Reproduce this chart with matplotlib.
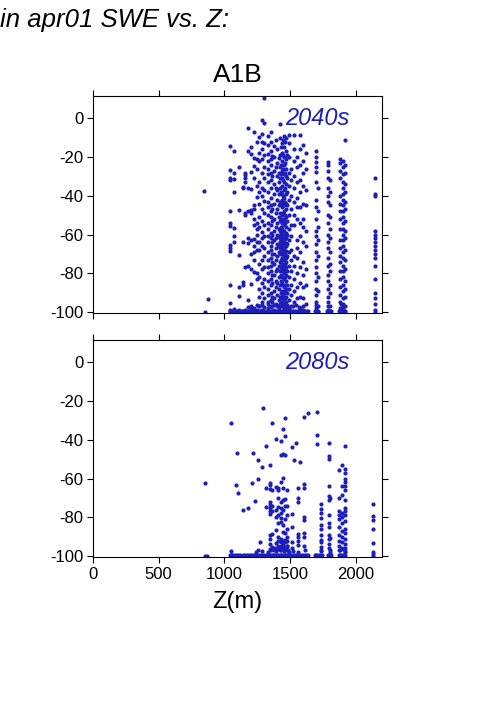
import matplotlib
matplotlib.use("Agg")
import matplotlib.pyplot as plt

plt.rcParams['font.family'] = ['Liberation Sans', 'DejaVu Sans']
plt.rcParams['axes.unicode_minus'] = False

# columns of (Z in m, list of SWE changes)
cols_2040 = [
    (845, [-37.5]),
    (852, [-100]),
    (874, [-93.5]),
    (1045, [-14.5, -26.5, -31, -32, -48, -54, -55.5, -65.5, -67, -68.5, -86, -95.5, -99, -100]),
    (1074, [-17, -28, -31.5, -38, -56.5, -60.5, -64, -100, -98.5]),
    (1108, [-25, -47.5, -70.5, -87, -91.5, -100, -99]),
    (1138, [-35.5, -36, -64, -84.5, -86, -99.5, -100]),
    (1160, [-28, -29.5, -31, -33, -49, -50, -77, -99, -100]),
    (1182, [-5, -17, -36, -48, -62, -64.5, -76, -94, -97.5, -100]),
    (1200, [-15, -18.5, -27.5, -36.5, -47.5, -49, -63, -70, -78, -85.5, -97, -99, -100]),
    (1225, [-7, -20.5, -24.5, -31, -45, -47, -52, -55, -62.5, -66, -69, -73, -79.5, -98, -100]),
    (1245, [-12, -21, -26, -35, -40.5, -54, -57, -60, -64, -68, -80, -83, -96.5, -99, -100]),
    (1265, [-9.5, -18, -22, -33, -38, -44, -51, -56, -64, -68, -75, -82, -88, -92, -97, -100]),
    (1285, [-1, -8, -12, -16, -21, -28, -36, -40, -47, -53, -58.5, -62, -66, -73, -78, -85, -90, -95, -99, -100]),
    (1305, [10.5, -2.5, -12.5, -19, -25, -31, -37, -42.5, -49, -55, -61, -67, -71, -77, -83, -87, -93, -97.5, -100]),
    (1335, [-9, -14, -18.5, -22, -26, -29, -33, -38, -43, -46, -50, -54, -57, -61, -64, -69, -73, -77,
            -80, -84, -88, -91, -95, -98, -100]),
    (1355, [-7, -12, -17, -21, -24, -28, -32, -36, -41, -45, -48, -51, -55, -59, -62, -66, -68, -72,
            -76, -79, -83, -86, -90, -94, -97, -100]),
    (1365, [-19.5, -30, -47, -53, -60, -64, -70, -74, -81, -85, -92, -95]),
    (1375, [-14.5, -20, -27, -34, -39, -44, -52, -58, -63, -70, -75, -81, -89, -93, -99]),
    (1390, [-11, -25, -36, -49, -56, -62, -67, -73, -79, -84, -87, -96]),
    (1400, [-16, -23, -30, -37, -42, -47, -54, -60, -65, -71, -78, -85, -91, -97, -100]),
    (1415, [-20.5, -28, -33, -39, -45, -51, -57, -61, -66, -69, -76, -82, -88, -94, -98]),
    (1425, [-3, -10, -19, -25, -31, -36, -43, -49, -53, -58, -62, -64, -67, -70, -74, -79, -86, -92, -96, -100]),
    (1433, [-15, -24, -29, -38, -44, -52, -56, -59, -63, -65, -69, -73, -77, -81, -84, -90, -95]),
    (1440, [-13, -18, -22, -27, -31, -35, -39, -42, -46, -50, -54, -57, -60, -62, -64, -66, -68, -70,
            -72, -75, -78, -82, -85, -89, -93, -97, -100]),
    (1448, [-11, -19, -26, -32, -40, -43, -49, -53, -58, -61, -63.5, -65.5, -67.5, -70, -73, -79, -86, -91, -96]),
    (1455, [-9, -15, -20, -24, -29, -33, -37, -41, -45, -48, -52, -55, -58, -61, -63, -65, -67, -69,
            -71, -73, -76, -80, -83, -87, -90, -94, -98, -100]),
    (1462, [-12, -23, -28, -36, -43, -50, -54, -60, -62, -66, -70, -75, -78, -82, -86, -89, -93, -97]),
    (1470, [-10, -17, -21, -26, -30, -34, -39, -44, -47, -51, -56, -59, -62, -64.5, -66, -68.5, -72,
            -74, -77, -81, -84, -88, -92, -95, -99]),
    (1480, [-19, -31, -38, -45, -53, -60, -65, -71, -79, -86, -90, -97]),
    (1490, [-8.5, -13, -20, -28, -35, -42, -50, -57, -63, -69, -76, -82, -88, -94, -99]),
    (1510, [-26, -32, -40, -47, -55, -61, -68, -73, -79, -86, -91, -97, -100]),
    (1530, [-8.5, -16, -22, -30, -36, -43, -50, -55, -71, -76, -83, -89, -95, -100]),
    (1550, [-20, -25, -33, -41, -46, -52, -63, -67, -72, -80, -87, -93, -100]),
    (1575, [-8.5, -16, -24, -32, -38, -46, -54, -61, -69, -77, -85, -92, -98]),
    (1600, [-14, -22, -28, -35, -44, -52, -56, -64, -74, -81, -87, -93, -99]),
    (1620, [-18, -26, -37, -45, -58, -66, -78, -86, -96, -100]),
    (1700, [-17, -20, -22.5, -25, -27.5, -33, -42, -46, -52, -58, -61, -65, -69, -73, -77, -80, -84,
            -88, -91, -95, -98, -100]),
    (1712, [-36, -48, -56, -63, -71, -82, -89, -97, -100]),
    (1785, [-22.5, -24, -27, -31, -36, -40, -43, -50, -54, -60, -64, -67, -72, -76, -81, -84, -88,
            -92, -95, -99, -100]),
    (1805, [-32, -38, -45, -51, -57, -62, -69, -75, -79, -86, -90, -97, -100]),
    (1880, [-21, -23, -27, -31, -40, -44, -48, -52, -57, -63, -67, -71, -74, -79, -83, -87, -91, -95, -98, -100]),
    (1900, [-22, -25, -29, -33, -36, -39, -42, -45, -48, -51, -54, -57, -60, -63, -66, -69, -72, -76,
            -79, -82, -86, -89, -93, -96, -99, -100]),
    (1915, [-11, -24, -28, -34, -38, -43, -47, -53, -58, -62, -68, -73, -78, -84, -88, -92, -97, -100]),
    (2145, [-31, -39, -40, -58, -60, -62, -64, -66, -68, -70, -72, -76, -83, -90, -93, -96, -99, -100]),
]

cols_2080 = [
    (852, [-62.5, -100]),
    (870, [-100]),
    (1048, [-31.5, -97.5, -99.5]),
    (1088, [-63.5, -100]),
    (1095, [-47]),
    (1102, [-67.5]),
    (1145, [-76.5]),
    (1182, [-75]),
    (1213, [-62.5]),
    (1218, [-47]),
    (1233, [-71.5]),
    (1256, [-50.5, -60, -97]),
    (1273, [-93]),
    (1286, [-54]),
    (1294, [-23.5]),
    (1315, [-43, -65, -74.5]),
    (1350, [-53, -62.5, -63.5, -65.5, -72, -73.5, -75, -77, -78.5, -89, -91, -94]),
    (1362, [-31.5, -66, -74, -77, -88.5]),
    (1393, [-39.5, -64.5, -76, -80, -86.5, -93.5]),
    (1410, [-65, -66, -70, -74.5, -79, -83, -90, -92.5, -96]),
    (1430, [-40.5, -48, -62, -72, -75, -78, -80.5, -82.5, -91, -93, -95, -97]),
    (1445, [-34.5, -47.5, -59.5, -65, -71, -76, -84, -87.5, -92, -94.5, -96.5]),
    (1461, [-29, -38, -48, -70.5, -74, -81, -88, -91.5, -93, -96]),
    (1480, [-66, -74, -79, -86, -90, -92, -95, -97]),
    (1517, [-43.5, -78.5, -85, -93, -96]),
    (1530, [-50.5]),
    (1548, [-41.5]),
    (1558, [-65, -70, -72, -88.5, -90, -92, -94.5]),
    (1573, [-51.5]),
    (1605, [-28, -63, -65, -80, -81.5, -88, -90, -95]),
    (1640, [-26]),
    (1707, [-25.5, -37.5, -42]),
    (1735, [-73, -75.5, -78, -80.5, -84, -86, -89, -91.5, -93, -95.5, -97]),
    (1793, [-41.5, -48.5, -50, -64, -69, -71, -79, -83, -85, -89, -91, -94, -96]),
    (1806, [-70, -90.5, -97]),
    (1875, [-55.5, -70, -77, -79, -81, -85, -89, -92, -95, -97]),
    (1898, [-53, -64, -68.5, -78, -80, -83, -87, -90, -93, -96]),
    (1918, [-43, -55, -57, -60, -62, -64, -66, -71, -75, -77, -79, -82, -86, -88, -91, -94, -96, -98]),
    (2133, [-73, -79.5, -81.5, -86, -93.5, -98, -99, -100]),
]

# points piled up at (nearly) -100% along the bottom
bottom_z_2040 = [1040, 1050, 1060, 1070, 1085, 1095, 1110, 1125, 1140, 1150, 1165, 1180, 1190, 1205,
                 1215, 1230, 1240, 1255, 1270, 1280, 1295, 1305, 1320, 1330, 1345, 1360, 1370, 1385,
                 1395, 1410, 1420, 1435, 1445, 1460, 1475, 1485, 1500, 1515, 1525, 1540, 1555, 1565,
                 1580, 1595, 1610, 1625, 1640, 1690, 1700, 1710, 1780, 1790, 1800, 1810, 1870, 1880,
                 1890, 1900, 1910, 1920]
bottom_swe_2040 = [-99.5] * len(bottom_z_2040)
bottom_z2_2040 = [1200, 1260, 1290, 1335, 1355, 1380, 1415, 1440, 1450, 1465, 1480, 1495, 1520,
                  1545, 1570, 1600, 1700, 1790, 1885, 1905]
bottom_swe2_2040 = [-97.5, -97, -96.5, -96, -97.5, -96.5, -97, -95.5, -96, -97.5, -96.5, -98, -97,
                    -96.5, -97.5, -97, -96.5, -97, -96, -97.5]

bottom_z_2080 = [1040, 1050, 1060, 1075, 1090, 1105, 1120, 1140, 1160, 1175, 1190, 1205, 1220,
                 1235, 1250, 1265, 1280, 1295, 1310, 1325, 1340, 1350, 1360, 1370, 1380, 1390, 1400,
                 1410, 1420, 1430, 1440, 1450, 1460, 1470, 1480, 1490, 1500, 1515, 1530, 1545, 1560,
                 1575, 1590, 1605, 1620, 1640, 1690, 1700, 1715, 1730, 1740, 1785, 1795, 1805, 1815,
                 1870, 1880, 1890, 1900, 1910, 1920]
bottom_swe_2080 = [-99.5] * len(bottom_z_2080)
bottom_z2_2080 = [1240, 1290, 1330, 1345, 1355, 1365, 1375, 1385, 1395, 1405, 1415, 1425, 1435,
                  1445, 1455, 1465, 1475, 1485, 1495, 1520, 1560, 1610, 1735, 1800, 1880, 1900, 1915]
bottom_swe2_2080 = [-98, -97.5, -98, -96.5, -97, -95.5, -97, -96, -97.5, -95, -96.5, -97, -95.5,
                    -96, -97.5, -96.5, -95, -97, -98, -97.5, -98, -97, -97.5, -98, -97, -96.5, -97.5]

xticks = [0, 500, 1000, 1500, 2000]
yticks = [0, -20, -40, -60, -80, -100]
blue = '#1e1eb8'


def flatten(cols, bz, bs, bz2, bs2):
    z, s = [], []
    for zc, vals in cols:
        z += [zc] * len(vals)
        s += vals
    return z + bz + bz2, s + bs + bs2


fig = plt.figure(figsize=(5.01, 7.09), dpi=100)
ax1 = fig.add_axes([0.1856, 0.5585, 0.577, 0.3061])
ax2 = fig.add_axes([0.1856, 0.2144, 0.577, 0.3061])

panels = [
    (ax1, cols_2040, bottom_z_2040, bottom_swe_2040, bottom_z2_2040, bottom_swe2_2040, '2040s'),
    (ax2, cols_2080, bottom_z_2080, bottom_swe_2080, bottom_z2_2080, bottom_swe2_2080, '2080s'),
]
for ax, cols, bz, bs, bz2, bs2, lab in panels:
    z, s = flatten(cols, bz, bs, bz2, bs2)
    ax.scatter(z, s, s=9, color=blue, linewidths=0)
    ax.set_xlim(0, 2200)
    ax.set_ylim(-100.5, 11.5)
    ax.set_xticks(xticks)
    ax.set_yticks(yticks)
    ax.tick_params(direction='out', length=4, width=0.8, top=True, right=True,
                   labelsize=12, pad=3)
    for sp in ax.spines.values():
        sp.set_linewidth(0.8)
    ax.text(1955, 0, lab, color=blue, fontsize=17, style='italic', ha='right', va='center')

ax1.tick_params(labelbottom=False)
ax2.set_xlabel('Z(m)', fontsize=17, labelpad=7)
ax1.set_title('A1B', fontsize=19, pad=10)
fig.text(0.0, 0.962, 'in apr01 SWE vs. Z:', fontsize=18.5, style='italic', ha='left', va='baseline')

fig.savefig('out.png', dpi=100)
